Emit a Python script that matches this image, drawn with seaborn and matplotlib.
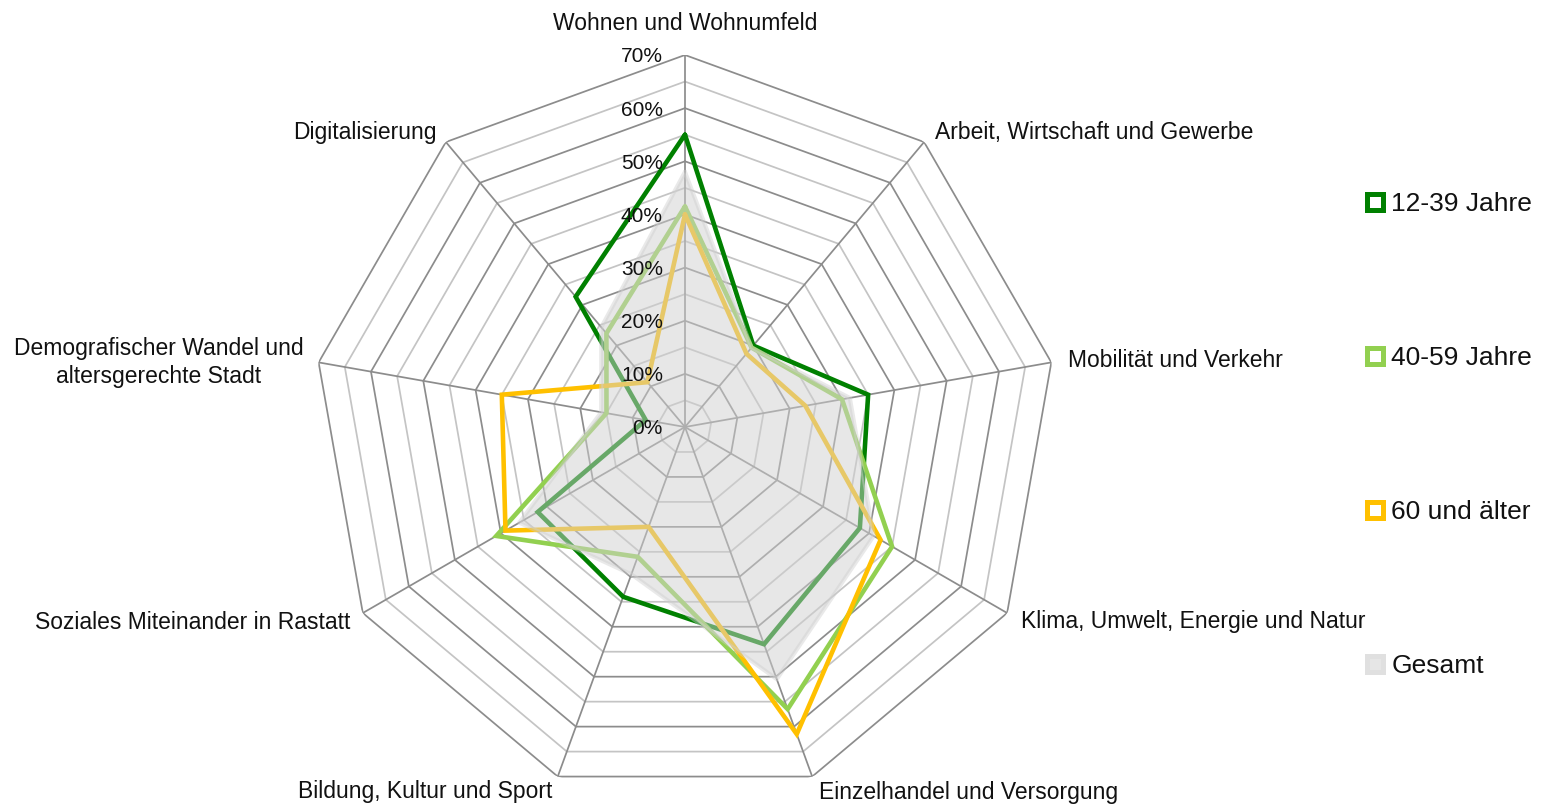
import numpy as np
import pandas as pd
import matplotlib
matplotlib.use("Agg")
import matplotlib.pyplot as plt
import seaborn as sns
from matplotlib.lines import Line2D

# ---- data -----------------------------------------------------------------
categories = [
    "Wohnen und Wohnumfeld",
    "Arbeit, Wirtschaft und Gewerbe",
    "Mobilität und Verkehr",
    "Klima, Umwelt, Energie und Natur",
    "Einzelhandel und Versorgung",
    "Bildung, Kultur und Sport",
    "Soziales Miteinander in Rastatt",
    "Demografischer Wandel und\naltersgerechte Stadt",
    "Digitalisierung",
]
series_names = ["12-39 Jahre", "40-59 Jahre", "60 und älter"]
vals_12_39 = [55, 20, 35, 38, 43.5, 34, 32, 7.5, 32]
vals_40_59 = [41.5, 19.5, 30, 45, 56.5, 26, 41, 15, 23]
vals_60 = [40, 18, 23, 42.5, 61.5, 20, 39, 35, 11]
vals_gesamt = [48, 19.5, 31.5, 41, 50.5, 29.5, 36, 16, 24.5]
tick_values = [0, 10, 20, 30, 40, 50, 60, 70]
tick_labels = ["0%", "10%", "20%", "30%", "40%", "50%", "60%", "70%"]

colors = {"12-39 Jahre": "#008000", "40-59 Jahre": "#92d050", "60 und älter": "#ffc000"}

# ---- style ----------------------------------------------------------------
sns.set_theme(style="white")
plt.rcParams["font.family"] = ["Liberation Sans", "DejaVu Sans"]
TXT = "#111111"

fig = plt.figure(figsize=(15.41, 8.06), dpi=100)
ax = fig.add_axes([0.2031, 0.00868, 0.4828, 0.9231], projection="polar")
ax.set_theta_zero_location("N")
ax.set_theta_direction(-1)
ax.grid(False)
ax.spines["polar"].set_visible(False)
ax.patch.set_alpha(0)

n = len(categories)
theta = np.arange(n) * 2 * np.pi / n
theta_c = np.append(theta, 2 * np.pi)

# ---- polygon grid ---------------------------------------------------------
for r in range(5, 75, 5):
    major = r % 10 == 0
    ax.plot(theta_c, [r] * (n + 1), color="#8c8c8c" if major else "#c4c4c4",
            lw=1.25, zorder=1, solid_joinstyle="miter")
for t in theta:
    ax.plot([t, t], [0, 70], color="#8c8c8c", lw=1.25, zorder=1)

# ---- series lines (seaborn) -----------------------------------------------
rows = []
for name, vals in zip(series_names, [vals_12_39, vals_40_59, vals_60]):
    for i in range(n + 1):
        rows.append({"theta": theta_c[i], "value": vals[i % n], "group": name})
df = pd.DataFrame(rows)
sns.lineplot(data=df, x="theta", y="value", hue="group", palette=colors,
             sort=False, estimator=None, units="group", lw=3.3, legend=False,
             ax=ax, zorder=2)
for line in ax.lines[-3:]:
    line.set_solid_joinstyle("miter")

# ---- Gesamt area on top ---------------------------------------------------
g_c = vals_gesamt + vals_gesamt[:1]
ax.fill(theta_c, g_c, color="#d0d0d0", alpha=0.5, lw=0, zorder=3)
ax.plot(theta_c, g_c, color="#cfcfcf", alpha=0.45, lw=3, zorder=3)

ax.set_ylim(0, 70)
ax.set_xticks([])
ax.set_yticks([])
ax.set_xlabel("")
ax.set_ylabel("")

# ---- radial tick labels ---------------------------------------------------
for v, lab in zip(tick_values, tick_labels):
    ax.annotate(lab, xy=(0, v), xytext=(-22, -2), textcoords="offset pixels",
                ha="right", va="center", fontsize=15, color=TXT, zorder=5)

# ---- category labels -------------------------------------------------------
offsets = [(0, 31), (11, 10), (17, 2), (14, -9), (7, -16),
           (-5, -15), (-12, -10), (-15, 0), (-9, 10)]
aligns = ["center", "left", "left", "left", "left", "right", "right", "right", "right"]
for t, lab, off, ha in zip(theta, categories, offsets, aligns):
    ax.annotate(lab, xy=(t, 70), xytext=off, textcoords="offset pixels",
                ha=ha, va="center", multialignment="center", fontsize=16.5,
                color=TXT, annotation_clip=False, linespacing=1.25)

# ---- legend ---------------------------------------------------------------
handles = [Line2D([], [], ls="", marker="s", markersize=11.5, markeredgewidth=3.6,
                  markerfacecolor="white", markeredgecolor=colors[s])
           for s in series_names]
handles.append(Line2D([], [], ls="", marker="s", markersize=11.5, markeredgewidth=3.6,
                      markerfacecolor="#e6e6e6", markeredgecolor="#e0e0e0"))
fig.legend(handles, series_names + ["Gesamt"], loc="center left",
           bbox_to_anchor=(0.8855, 0.4603), frameon=False, fontsize=19,
           handlelength=0.8, handletextpad=0.21, labelspacing=4.93,
           borderpad=0, borderaxespad=0, labelcolor=TXT)

fig.savefig("out.png", dpi=100)
